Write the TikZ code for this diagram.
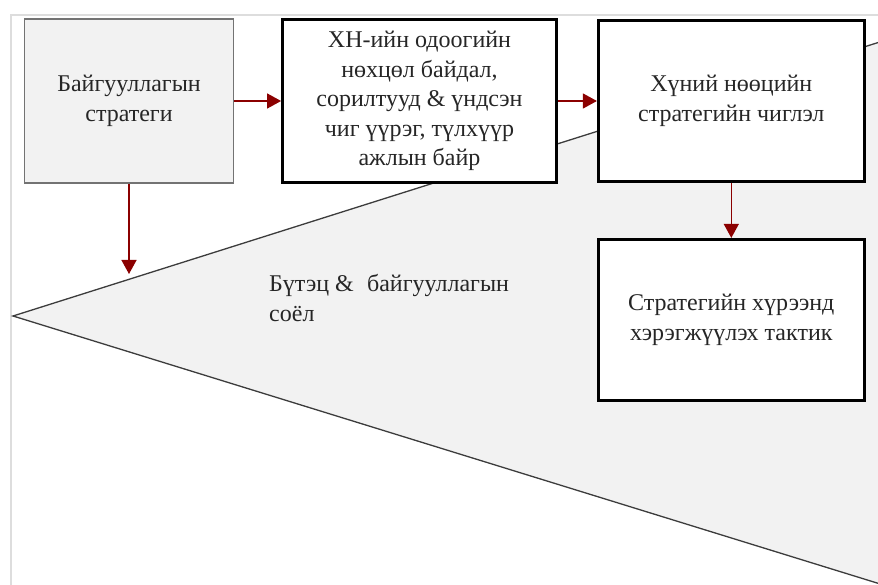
\documentclass[tikz,border=0pt]{standalone}
\usepackage{fontspec}
\setmainfont{Liberation Serif}
\usetikzlibrary{arrows.meta,positioning}
\definecolor{frame}{HTML}{DDDDDD}
\definecolor{wedge}{HTML}{F2F2F2}
\definecolor{edge}{HTML}{3C3C3C}
\definecolor{flowred}{HTML}{8B0000}
\definecolor{ink}{HTML}{262626}

\begin{document}
\begin{tikzpicture}[
    x=1pt,y=-1pt,
    node distance=46pt and 46pt,
    softbox/.style={draw=black!55,line width=1.2pt,fill=wedge,minimum width=209pt,minimum height=164pt,
                    align=center,text=ink,font=\fontsize{24}{29.5}\selectfont},
    hardbox/.style={draw=black,line width=2.8pt,fill=white,minimum width=266pt,minimum height=161pt,
                    align=center,text=ink,font=\fontsize{24}{29.5}\selectfont},
    flow/.style={-{Triangle[length=14pt,width=15pt]},line width=1.3pt,flowred}
]
\useasboundingbox (0,0) rectangle (878,585);

% frame and wedge
\draw[frame,line width=2.5pt] (11,585) -- (11,15) -- (878,15);
\begin{scope}
  \clip (0,0) rectangle (878,585);
  \draw[edge,fill=wedge,line width=1.3pt] (1000,4) -- (13,316) -- (1000,621);
\end{scope}
\node[anchor=west,align=left,inner sep=0pt,text=ink,font=\fontsize{24}{29.5}\selectfont] (culture) at (269,298)
  {Бүтэц \&\hspace{0.55em}байгууллагын\\соёл};

% boxes
\node[softbox] (orgstr) at (129,101) {Байгууллагын\\стратеги};
\node[hardbox,minimum width=274pt,minimum height=163pt,right=47pt of orgstr] (hrnow)
  {ХН-ийн одоогийн\\нөхцөл байдал,\\сорилтууд \& үндсэн\\чиг үүрэг, түлхүүр\\ажлын байр};
\node[hardbox,right=39pt of hrnow] (hrdir) {Хүний нөөцийн\\стратегийн чиглэл};
\node[hardbox,below=55pt of hrdir] (tactic) {Стратегийн хүрээнд\\хэрэгжүүлэх тактик};

% arrows
\coordinate (wedgetop) at (129,274);
\draw[flow] (orgstr.east) -- (hrnow.west);
\draw[flow] (hrnow.east) -- (hrdir.west);
\draw[flow] (orgstr.south) -- (wedgetop);
\draw[flow] (hrdir.south) -- (tactic.north);
\end{tikzpicture}
\end{document}
